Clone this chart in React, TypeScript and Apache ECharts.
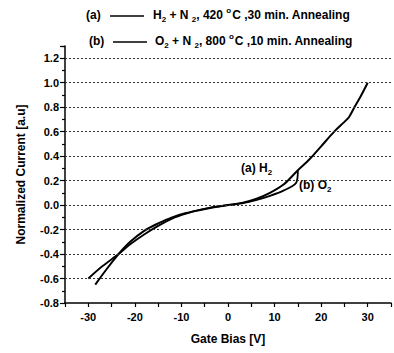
import React, { useEffect, useRef } from "react";
import * as echarts from "echarts";

const h2X = [-28.5, -26, -23.5, -21, -18, -15, -12, -9, -6, -3, 0, 3, 6, 9, 12, 15, 17.4, 20, 22.8, 25, 26, 27, 28.5, 30];
const h2Y = [-0.65, -0.52, -0.4, -0.3, -0.21, -0.15, -0.1, -0.065, -0.04, -0.018, 0, 0.018, 0.05, 0.1, 0.17, 0.285, 0.37, 0.48, 0.6, 0.68, 0.72, 0.79, 0.89, 1.0];
const o2X = [-30, -27, -23.5, -21, -18, -15, -12, -9, -6, -3, 0, 3, 6, 9, 12, 14.6, 15];
const o2Y = [-0.6, -0.5, -0.4, -0.32, -0.24, -0.17, -0.11, -0.07, -0.04, -0.015, 0, 0.015, 0.04, 0.075, 0.12, 0.18, 0.28];
const gridValues = [-0.6, -0.4, -0.2, 0.0, 0.2, 0.4, 0.6, 0.8, 1.0, 1.2];
const xTickLabels = [-30, -20, -10, 0, 10, 20, 30];

const FONT = "'Liberation Sans', Arial, sans-serif";

export default function App() {
  const ref = useRef<HTMLDivElement>(null);
  useEffect(() => {
    if (!ref.current) return;
    const chart = echarts.init(ref.current, null, { renderer: "svg" });
    const pair = (xs: number[], ys: number[]) => xs.map((x, i) => [x, ys[i]]);
    const rich = {
      b: { fontFamily: FONT, fontWeight: "bold", fontSize: 12, fill: "#000", color: "#000" },
      sub: { fontFamily: FONT, fontWeight: "bold", fontSize: 8, color: "#000", padding: [8, 0, 0, 0] },
      sup: { fontFamily: FONT, fontWeight: "bold", fontSize: 8, color: "#000", padding: [0, 1, 10, 0] },
    };
    chart.setOption({
      animation: false,
      backgroundColor: "#fff",
      grid: { left: 65, right: 2, top: 46, bottom: 50 },
      xAxis: {
        type: "value",
        min: -35,
        max: 35,
        interval: 5,
        name: "Gate Bias [V]",
        nameLocation: "middle",
        nameGap: 30,
        nameTextStyle: { fontFamily: FONT, fontWeight: "bold", fontSize: 12, color: "#000" },
        axisLine: { onZero: false, lineStyle: { color: "#000", width: 1.5 } },
        axisTick: { show: true, inside: false, length: 4, lineStyle: { color: "#000", width: 1.2 } },
        axisLabel: {
          fontFamily: FONT,
          fontWeight: "bold",
          fontSize: 11,
          color: "#000",
          margin: 8,
          formatter: (v: number) => (xTickLabels.indexOf(Math.round(v)) >= 0 && Math.abs(v - Math.round(v)) < 1e-6 ? String(Math.round(v)) : ""),
        },
        splitLine: { show: false },
      },
      yAxis: {
        type: "value",
        min: -0.8,
        max: 1.3,
        interval: 0.2,
        name: "Normalized Current [a.u]",
        nameLocation: "middle",
        nameGap: 38,
        nameTextStyle: { fontFamily: FONT, fontWeight: "bold", fontSize: 12, color: "#000" },
        axisLine: { onZero: false, lineStyle: { color: "#000", width: 1.5 } },
        axisTick: { show: true, length: 5, lineStyle: { color: "#000", width: 1.2 } },
        minorTick: { show: true, splitNumber: 2, length: 3, lineStyle: { color: "#000", width: 1.2 } },
        axisLabel: {
          fontFamily: FONT,
          fontWeight: "bold",
          fontSize: 11,
          color: "#000",
          margin: 6,
          formatter: (v: number) => (v > 1.25 ? "" : v.toFixed(1)),
        },
        splitLine: { show: false },
        minorSplitLine: { show: false },
      },
      series: [
        {
          type: "line",
          name: "(a) H2",
          data: pair(h2X, h2Y),
          showSymbol: false,
          smooth: 0.3,
          lineStyle: { color: "#000", width: 2 },
          markLine: {
            silent: true,
            symbol: "none",
            label: { show: false },
            lineStyle: { color: "#333", type: [2, 2], width: 1 },
            data: gridValues.map((v) => ({ yAxis: v })),
          },
          z: 3,
        },
        {
          type: "line",
          name: "(b) O2",
          data: pair(o2X, o2Y),
          showSymbol: false,
          smooth: 0.3,
          lineStyle: { color: "#000", width: 1.8 },
          z: 3,
        },
      ],
      graphic: [
        { type: "text", left: 86, top: 9, style: { text: "(a)", font: `bold 12px ${FONT}`, fill: "#000" } },
        { type: "line", shape: { x1: 110, y1: 16, x2: 144, y2: 16 }, style: { stroke: "#000", lineWidth: 1.5 } },
        {
          type: "text",
          left: 153,
          top: 6,
          style: {
            text: "{b|H}{sub|2}{b| + N }{sub|2}{b|, 420 }{sup|o}{b|C ,30 min. Annealing}",
            rich,
          },
        },
        { type: "text", left: 89, top: 35, style: { text: "(b)", font: `bold 12px ${FONT}`, fill: "#000" } },
        { type: "line", shape: { x1: 113, y1: 42, x2: 147, y2: 42 }, style: { stroke: "#000", lineWidth: 1.5 } },
        {
          type: "text",
          left: 155,
          top: 32,
          style: {
            text: "{b|O}{sub|2}{b| + N }{sub|2}{b|, 800 }{sup|o}{b|C ,10 min. Annealing}",
            rich,
          },
        },
        {
          type: "text",
          left: 241,
          top: 162,
          style: { text: "{b|(a) H}{sub|2}", rich },
        },
        {
          type: "text",
          left: 299,
          top: 179,
          style: { text: "{b|(b) O}{sub|2}", rich },
        },
      ],
    });
    return () => chart.dispose();
  }, []);
  return <div ref={ref} style={{ width: 394, height: 353, position: "absolute", left: 0, top: 0 }} />;
}
